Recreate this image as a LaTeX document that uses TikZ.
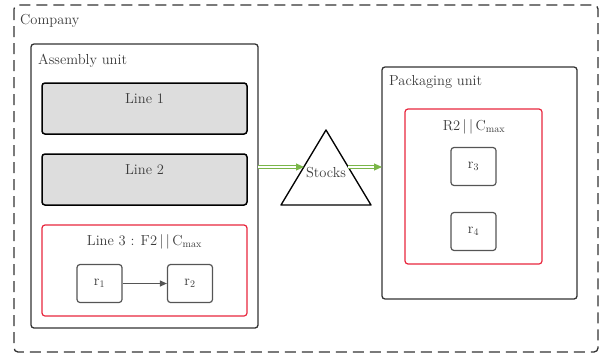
\documentclass[tikz,border=0pt]{standalone}
\usetikzlibrary{arrows.meta}
\definecolor{txt}{HTML}{3A3A3A}
\definecolor{edge}{HTML}{333333}
\definecolor{redb}{HTML}{E8263D}
\definecolor{grn}{HTML}{7AB648}
\definecolor{lfill}{HTML}{DDDDDD}
\definecolor{rgray}{HTML}{555555}
\begin{document}
\begin{tikzpicture}[x=1pt,y=-1pt,
  every node/.style={text=txt,font=\fontsize{14.5}{17}\selectfont},
  container/.style={draw=edge,line width=1.3pt,rounded corners=3pt},
  linebox/.style={draw=black,line width=1.5pt,fill=lfill,rounded corners=3pt},
  redbox/.style={draw=redb,line width=1.2pt,rounded corners=3pt},
  rbox/.style={draw=rgray,line width=1.2pt,rounded corners=3pt,minimum width=45pt,minimum height=38pt,inner sep=0pt},
  lbl/.style={anchor=west,inner sep=0pt},
  flow/.style={draw=grn,double=white,double distance=1.6pt,line width=1pt,-{Triangle[length=8pt,width=7pt,fill=grn]}}
]
\useasboundingbox (0,0) rectangle (607,356);
% outer dashed company
\draw[draw=edge,line width=1.3pt,dash pattern=on 11pt off 6pt,rounded corners=4pt] (14,5) rectangle (598,352);
\node[lbl] (company) at (20,21) {Company};
% assembly unit
\draw[container] (31,44) rectangle (258,328);
\coordinate (asmE) at (258,167);
\node[lbl] (asm) at (38,61) {Assembly unit};
\draw[linebox] (42,83) rectangle (247,134);
\node (l1) at (144.5,99) {Line 1};
\draw[linebox] (42,154) rectangle (247,205);
\node (l2) at (144.5,170) {Line 2};
\draw[redbox] (42,225) rectangle (247,316);
\node (l3) at (144.5,242) {Line 3 : F2\,|\,|\,C\textsubscript{max}};
\node[rbox] (r1) at (99.5,283.5) {r$_1$};
\node[rbox] (r2) at (190,283.5) {r$_2$};
\draw[draw=rgray,line width=1.1pt,-{Triangle[length=7pt,width=6pt]}] (r1) -- (r2);
% stocks triangle
\draw[draw=black,line width=1.3pt,line join=round] (326,130) -- (371,205) -- (281,205) -- cycle;
\node (stocks) at (326,173) {Stocks};
\coordinate (triL) at (304,167);
\coordinate (triR) at (348,167);
% packaging unit
\draw[container] (382,67) rectangle (577,299);
\coordinate (packW) at (382,167);
\node[lbl] (pack) at (389,82) {Packaging unit};
\draw[redbox] (405,109) rectangle (542,264);
\node (r2c) at (474,127) {R2\,|\,|\,C\textsubscript{max}};
\node[rbox] (r3) at (473.5,166.5) {r$_3$};
\node[rbox] (r4) at (473.5,231.5) {r$_4$};
% flows
\draw[flow] (asmE) -- (triL);
\draw[flow] (triR) -- (packW);
\end{tikzpicture}
\end{document}
